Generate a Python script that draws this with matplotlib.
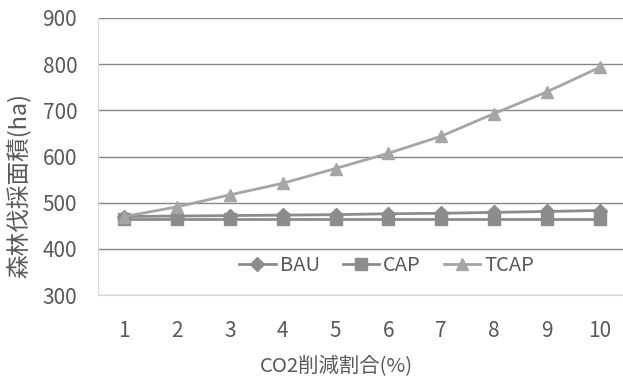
import matplotlib
matplotlib.use("Agg")
import matplotlib.pyplot as plt

plt.rcParams['font.family'] = ['Noto Sans CJK JP', 'DejaVu Sans']

# Data
reduction_pct = [1, 2, 3, 4, 5, 6, 7, 8, 9, 10]
bau = [470, 471, 472, 473, 474, 476, 477, 479, 481, 483]
cap = [465, 465, 465, 465, 465, 465, 465, 465, 465, 465]
tcap = [470, 491, 517, 542, 574, 607, 644, 693, 740, 793]
y_ticks = [300, 400, 500, 600, 700, 800, 900]

text_color = '#595959'
dark_gray = '#8c8c8c'
light_gray = '#a5a5a5'

fig = plt.figure(figsize=(6.23, 3.78), dpi=100)
ax = fig.add_axes([98 / 623, 1 - 295 / 378, 528 / 623, 277 / 378])

ax.plot(reduction_pct, bau, color=dark_gray, lw=2.0, marker='D',
        markersize=7, label='BAU', zorder=4)
ax.plot(reduction_pct, cap, color=dark_gray, lw=2.0, marker='s',
        markersize=8, label='CAP', zorder=3)
ax.plot(reduction_pct, tcap, color=light_gray, lw=2.0, marker='^',
        markersize=9, label='TCAP', zorder=5)

ax.set_xlim(0.5, 10.5)
ax.set_ylim(300, 900)
ax.set_xticks(reduction_pct)
ax.set_yticks(y_ticks)
ax.tick_params(axis='both', length=0, labelsize=15, colors=text_color)
ax.tick_params(axis='x', pad=18)
ax.tick_params(axis='y', pad=15)

ax.grid(axis='y', color='#878787', lw=1.0)
ax.set_axisbelow(True)
for side in ['top', 'right']:
    ax.spines[side].set_visible(False)
ax.spines['left'].set_color('#d9d9d9')
ax.spines['bottom'].set_color('#d9d9d9')

# Axis titles
fig.text(336 / 623, 1 - 367 / 378, 'CO2削減割合(%)', fontsize=14.7,
         color=text_color, ha='center', va='center')
fig.text(18 / 623, 1 - 185 / 378, '森林伐採面積(ha)', fontsize=17,
         color=text_color, ha='center', va='center', rotation=90)

leg = ax.legend(loc='center', bbox_to_anchor=(0.547, 0.108), ncol=3,
                frameon=False, fontsize=14.5, handlelength=1.8,
                columnspacing=1.15, handletextpad=0.2)
for t in leg.get_texts():
    t.set_color(text_color)

fig.savefig('out.png', dpi=100)
